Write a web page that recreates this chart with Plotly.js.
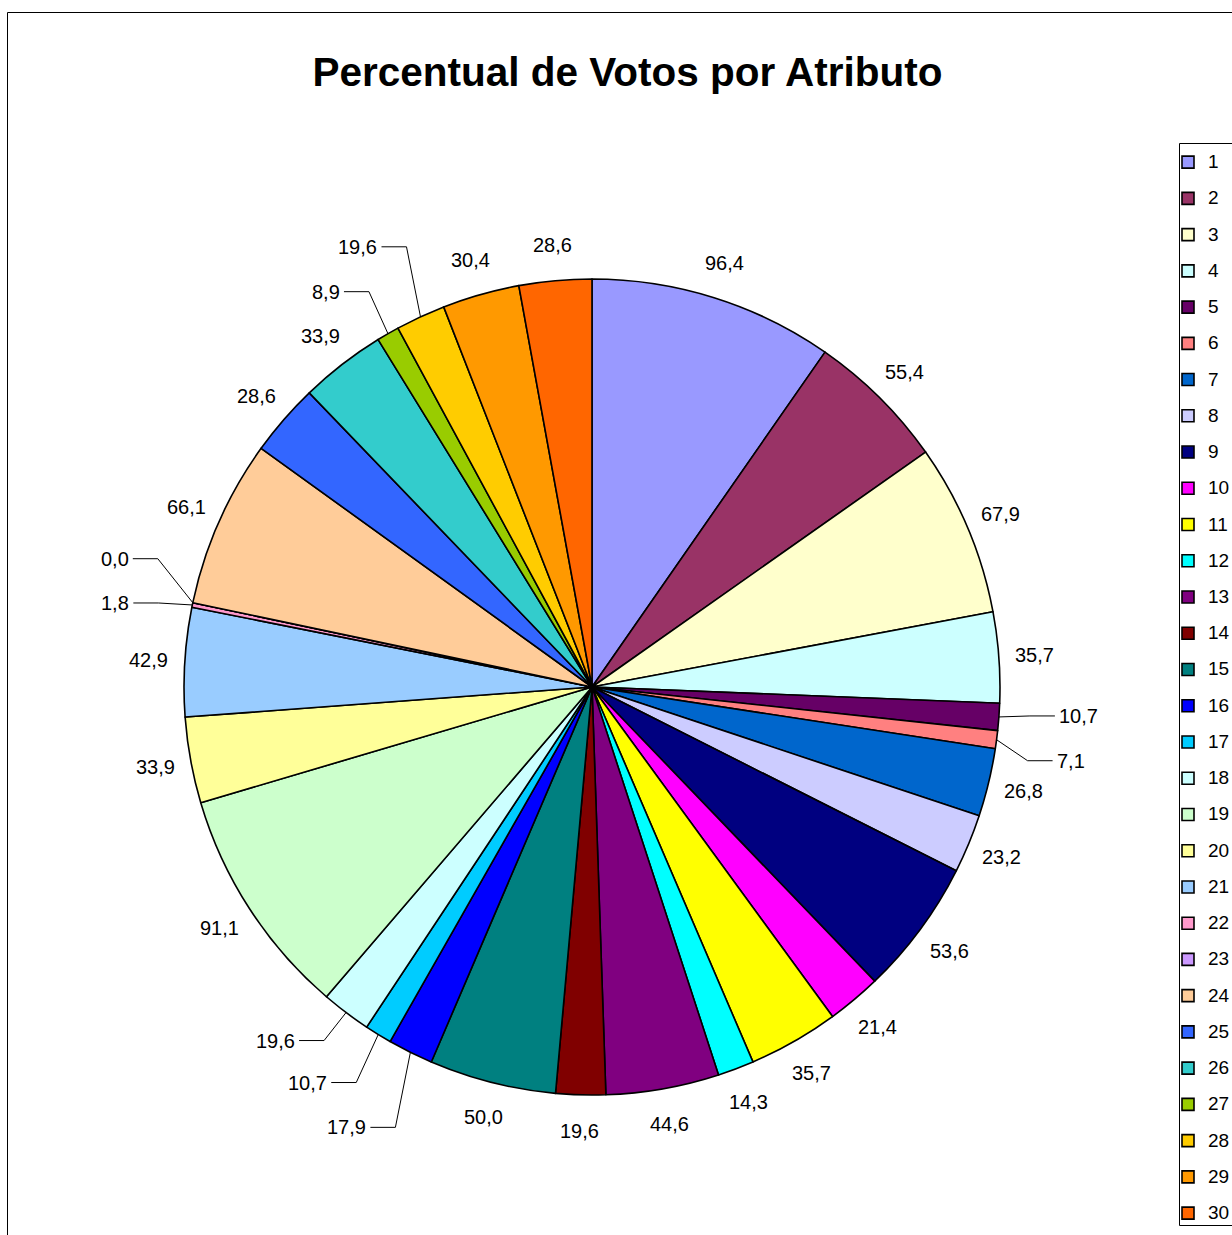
<!DOCTYPE html>
<html><head><meta charset="utf-8">
<script src="https://cdn.plot.ly/plotly-3.0.1.min.js"></script>
<style>html,body{margin:0;padding:0;background:#fff}</style>
</head><body><div id="chart" style="width:1232px;height:1235px"></div>
<script>
const labels = ['1','2','3','4','5','6','7','8','9','10','11','12','13','14','15','16','17','18','19','20','21','22','23','24','25','26','27','28','29','30'];
const values = [96.4,55.4,67.9,35.7,10.7,7.1,26.8,23.2,53.6,21.4,35.7,14.3,44.6,19.6,50.0,17.9,10.7,19.6,91.1,33.9,42.9,1.8,0.0,66.1,28.6,33.9,8.9,19.6,30.4,28.6];
const colors = ['#9999FF','#993366','#FFFFCC','#CCFFFF','#660066','#FF8080','#0066CC','#CCCCFF','#000080','#FF00FF','#FFFF00','#00FFFF','#800080','#800000','#008080','#0000FF','#00CCFF','#CCFFFF','#CCFFCC','#FFFF99','#99CCFF','#FF99CC','#CC99FF','#FFCC99','#3366FF','#33CCCC','#99CC00','#FFCC00','#FF9900','#FF6600'];
const titleText = 'Percentual de Votos por Atributo';

// label nudges for leader-line labels: elbow offset (px) from slice edge point
const leaderNudge = {5:[31,-1],6:[31,21],16:[-15,75],17:[-22,48],18:[-22,28],22:[-34,-2],23:[-35,-44],27:[-19,-42],28:[-14,-70]};

const W = 1232, H = 1235;
const px = x => x / W, py = y => 1 - y / H;
const fmt = v => v.toFixed(1).replace('.', ',');
const FONT = 'Arial, "Liberation Sans", sans-serif';

const legendLabels = labels.map(l => '<span style="font-size:19px;baseline-shift:4px">' + l + '</span>');

const trace = {
  type: 'pie',
  labels: legendLabels,
  values: values,
  sort: false,
  direction: 'clockwise',
  rotation: 0,
  marker: {colors: colors, line: {color: '#000', width: 1.6}},
  textinfo: 'none',
  hoverinfo: 'label+value',
  domain: {x: [px(184), px(1000)], y: [py(1095), py(279)]}
};

const baseShapes = [
  {type:'rect', xref:'paper', yref:'paper', x0:px(7.5), x1:px(1260), y0:py(12.5), y1:py(1260), line:{color:'#000', width:1}},
  {type:'rect', xref:'paper', yref:'paper', x0:px(1179.5), x1:px(1260), y0:py(143.5), y1:py(1225.5), line:{color:'#000', width:1}}
];

const layout = {
  width: W, height: H,
  margin: {l:0, r:0, t:0, b:0, autoexpand:false},
  paper_bgcolor: '#fff',
  title: {text: titleText, font: {family: FONT, size: 40.5, color: '#000', weight: 'bold'}, x: px(627.5), xanchor: 'center', xref:'paper', y: py(72), yanchor: 'middle', yref:'paper'},
  showlegend: true,
  legend: {x: px(1168), xanchor: 'left', y: py(139), yanchor: 'top', font: {family: FONT, size: 25.57, color: '#000'}, bgcolor: 'rgba(0,0,0,0)', borderwidth: 0},
  shapes: baseShapes
};

Plotly.newPlot('chart', [trace], layout, {displayModeBar: false}).then(gd => {
  const cd0 = gd.calcdata[0][0];
  const cx = cd0.cx, cy = cd0.cy, R = cd0.r;
  const total = values.reduce((a, b) => a + b, 0);
  const RL = R * 1.088;
  const annotations = [];
  const shapes = baseShapes.slice();
  let cum = 0;
  values.forEach((v, i) => {
    const mid = (cum + v / 2) / total * 2 * Math.PI;
    cum += v;
    const s = Math.sin(mid), c = Math.cos(mid);
    const idx = i + 1;
    const nudge = leaderNudge[idx];
    if (nudge) {
      const ex = cx + R * s, ey = cy - R * c;
      const bx = ex + nudge[0], by = ey + nudge[1];
      const dir = nudge[0] >= 0 ? 1 : -1;
      const hx = bx + dir * 25;
      shapes.push({type:'path', xref:'paper', yref:'paper',
        path: 'M' + px(ex) + ',' + py(ey) + ' L' + px(bx) + ',' + py(by) + ' L' + px(hx) + ',' + py(by),
        line: {color:'#000', width:1}});
      annotations.push({xref:'paper', yref:'paper', x: px(hx + dir * 2), y: py(by), text: fmt(v),
        showarrow:false, xanchor: dir > 0 ? 'left' : 'right', yanchor:'middle',
        font:{family: FONT, size: 20, color:'#000'}});
    } else {
      annotations.push({xref:'paper', yref:'paper', x: px(cx + RL * s), y: py(cy - RL * c), text: fmt(v),
        showarrow:false, xanchor:'center', yanchor:'middle',
        font:{family: FONT, size: 20, color:'#000'}});
    }
  });
  return Plotly.relayout(gd, {annotations: annotations, shapes: shapes});
});
</script>
</body></html>
